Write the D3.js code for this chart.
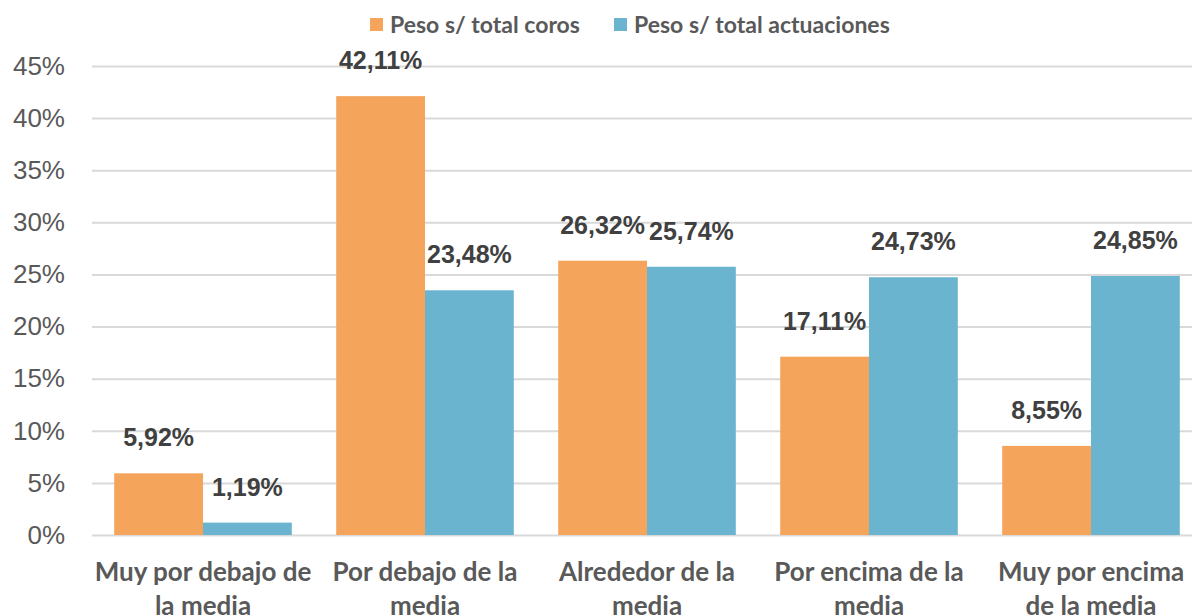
<!DOCTYPE html>
<meta charset="utf-8">
<style>
body { margin: 0; background: #fff; }
svg { display: block; background: #fff; }
.tick text { font-family: "Liberation Sans", Arial, sans-serif; }
</style>
<body>
<script src="https://cdnjs.cloudflare.com/ajax/libs/d3/7.8.5/d3.min.js"></script>
<script>

// data
var categories = [
  ["Muy por debajo de", "la media"],
  ["Por debajo de la", "media"],
  ["Alrededor de la", "media"],
  ["Por encima de la", "media"],
  ["Muy por encima", "de la media"]
];
var series = ["Peso s/ total coros", "Peso s/ total actuaciones"];
var coros = [5.92, 42.11, 26.32, 17.11, 8.55];
var actuaciones = [1.19, 23.48, 25.74, 24.73, 24.85];
var yTicks = [0, 5, 10, 15, 20, 25, 30, 35, 40, 45];
var colors = ["#F5A55B", "#6BB4CF"];

var W = 1192, H = 616;
var plotLeft = 92, plotRight = 1202, plotTop = 66, plotBottom = 535;

var svg = d3.select("body").append("svg")
    .attr("width", W)
    .attr("height", H);

var x0 = d3.scaleBand()
    .domain(d3.range(categories.length))
    .range([plotLeft, plotRight])
    .paddingInner(0.2)
    .paddingOuter(0.1);
var x1 = d3.scaleBand()
    .domain([0, 1])
    .range([0, x0.bandwidth()]);
var y = d3.scaleLinear()
    .domain([0, 45])
    .range([plotBottom, plotTop]);

// gridlines + y labels
var yAxis = svg.append("g")
    .attr("transform", "translate(" + plotLeft + ",0)")
    .call(d3.axisLeft(y).tickValues(yTicks)
      .tickSize(-(W - plotLeft))
      .tickPadding(27)
      .tickFormat(function(d) { return d + "%"; }));
yAxis.select(".domain").remove();
yAxis.selectAll(".tick line").attr("stroke", "#d9d9d9").attr("stroke-width", 2);
yAxis.selectAll(".tick text")
    .attr("fill", "#595959")
    .style("font-size", "26px");

// bars
var data = [coros, actuaciones];
var groups = svg.selectAll(".grp")
    .data(categories)
  .enter().append("g")
    .attr("class", "grp")
    .attr("transform", function(d, i) { return "translate(" + x0(i) + ",0)"; });

groups.selectAll("rect")
    .data(function(d, i) { return [0, 1].map(function(s) { return {s: s, v: data[s][i]}; }); })
  .enter().append("rect")
    .attr("x", function(d) { return x1(d.s); })
    .attr("width", x1.bandwidth())
    .attr("y", function(d) { return y(d.v); })
    .attr("height", function(d) { return plotBottom - y(d.v); })
    .attr("fill", function(d) { return colors[d.s]; });

groups.selectAll(".lbl")
    .data(function(d, i) { return [0, 1].map(function(s) { return {s: s, v: data[s][i]}; }); })
  .enter().append("text")
    .attr("class", "lbl")
    .attr("x", function(d) { return x1(d.s) + x1.bandwidth() / 2; })
    .attr("y", function(d) { return y(d.v) - 27; })
    .attr("text-anchor", "middle")
    .attr("fill", "#404040")
    .style("font-family", "'Liberation Sans', Arial, sans-serif")
    .style("font-weight", "bold")
    .style("font-size", "25px")
    .text(function(d) { return d3.format(".2f")(d.v).replace(".", ",") + "%"; });

// category labels
groups.append("text")
    .attr("text-anchor", "middle")
    .attr("fill", "#595959")
    .style("font-family", "Lato, sans-serif")
    .style("font-weight", "bold")
    .style("font-size", "26px")
    .selectAll("tspan")
    .data(function(d) { return d; })
  .enter().append("tspan")
    .attr("x", x0.bandwidth() / 2)
    .attr("y", function(d, j) { return 581 + j * 34; })
    .text(function(d) { return d; });

// legend
var legend = svg.append("g");
var legX = [370, 614];
series.forEach(function(s, i) {
  legend.append("rect")
      .attr("x", legX[i]).attr("y", 18)
      .attr("width", 13).attr("height", 13)
      .attr("fill", colors[i]);
  legend.append("text")
      .attr("x", legX[i] + 20).attr("y", 33)
      .attr("fill", "#595959")
      .style("font-family", "Lato, sans-serif")
      .style("font-weight", "bold")
      .style("font-size", "23px")
      .text(s);
});

</script>
</body>
